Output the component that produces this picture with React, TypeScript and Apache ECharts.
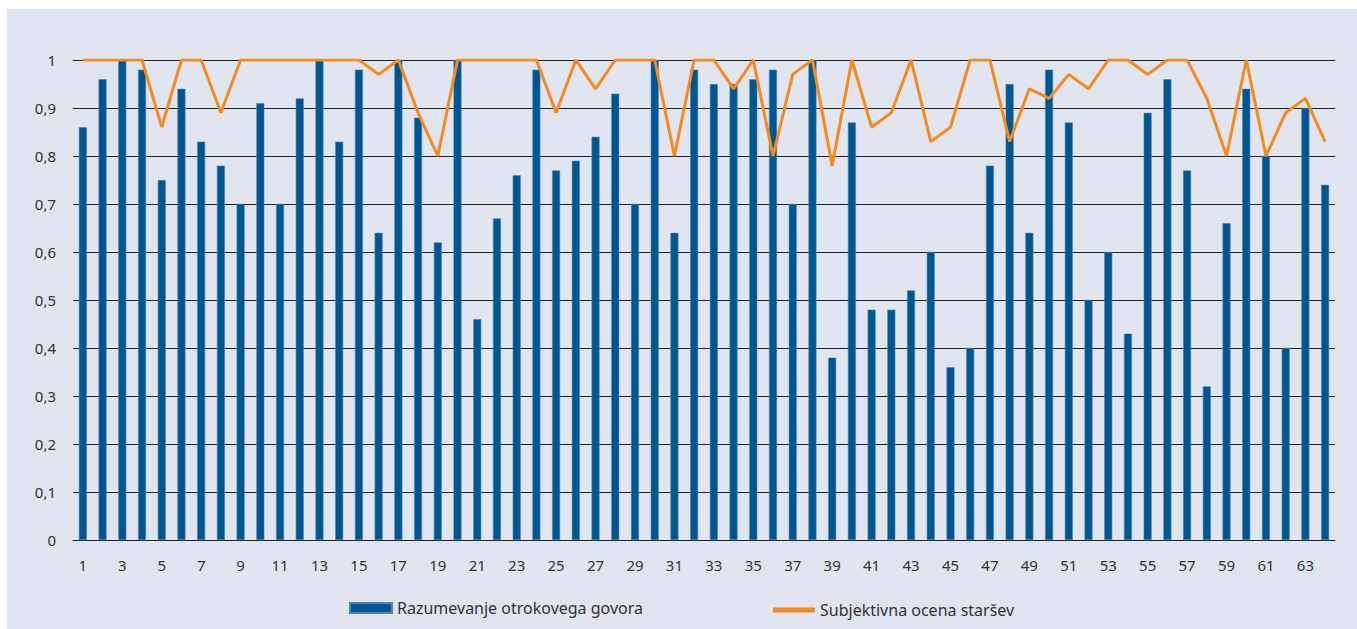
import React, { useEffect, useRef } from "react";
import * as echarts from "echarts";

const categories: string[] = Array.from({ length: 64 }, (_, i) => String(i + 1));

const razumevanje: number[] = [
  0.86, 0.96, 1.0, 0.98, 0.75, 0.94, 0.83, 0.78, 0.7, 0.91,
  0.7, 0.92, 1.0, 0.83, 0.98, 0.64, 1.0, 0.88, 0.62, 1.0,
  0.46, 0.67, 0.76, 0.98, 0.77, 0.79, 0.84, 0.93, 0.7, 1.0,
  0.64, 0.98, 0.95, 0.95, 0.96, 0.98, 0.7, 1.0, 0.38, 0.87,
  0.48, 0.48, 0.52, 0.6, 0.36, 0.4, 0.78, 0.95, 0.64, 0.98,
  0.87, 0.5, 0.6, 0.43, 0.89, 0.96, 0.77, 0.32, 0.66, 0.94,
  0.8, 0.4, 0.9, 0.74,
];

const ocena: number[] = [
  1, 1, 1, 1, 0.86, 1, 1, 0.89, 1, 1,
  1, 1, 1, 1, 1, 0.97, 1, 0.89, 0.8, 1,
  1, 1, 1, 1, 0.89, 1, 0.94, 1, 1, 1,
  0.8, 1, 1, 0.94, 1, 0.8, 0.97, 1, 0.78, 1,
  0.86, 0.89, 1, 0.83, 0.86, 1, 1, 0.83, 0.94, 0.92,
  0.97, 0.94, 1, 1, 0.97, 1, 1, 0.92, 0.8, 1,
  0.8, 0.89, 0.92, 0.83,
];

const seriesNames = ["Razumevanje otrokovega govora", "Subjektivna ocena staršev"];

export default function App() {
  const ref = useRef<HTMLDivElement>(null);
  useEffect(() => {
    if (!ref.current) return;
    const chart = echarts.init(ref.current, null, { renderer: "svg" });
    const font = "'Noto Sans', sans-serif";
    chart.setOption({
      animation: false,
      backgroundColor: "#e0e5ef",
      textStyle: { fontFamily: font },
      grid: { left: 66, top: 51, width: 1262, height: 480, containLabel: false },
      legend: [
        {
          data: [seriesNames[0]],
          left: 342,
          top: 591,
          padding: 0,
          itemWidth: 42,
          itemHeight: 10,
          itemGap: 5,
          icon: "rect",
          textStyle: { fontFamily: font, fontSize: 16, color: "#333" },
        },
        {
          data: [seriesNames[1]],
          left: 766,
          top: 593,
          padding: 0,
          itemWidth: 42,
          itemHeight: 5,
          icon: "rect",
          textStyle: { fontFamily: font, fontSize: 16, color: "#333" },
        },
      ],
      xAxis: {
        type: "category",
        data: categories,
        boundaryGap: true,
        axisLine: { show: true, lineStyle: { color: "#222", width: 1 } },
        axisTick: { show: false },
        axisLabel: {
          interval: 1,
          margin: 17,
          fontSize: 15,
          color: "#333",
          fontFamily: font,
        },
        splitLine: { show: false },
      },
      yAxis: {
        type: "value",
        min: 0,
        max: 1,
        interval: 0.1,
        axisLine: { show: false },
        axisTick: { show: false },
        axisLabel: {
          margin: 17,
          fontSize: 15,
          color: "#333",
          fontFamily: font,
          formatter: (v: number) => (Math.round(v * 10) / 10).toString().replace(".", ","),
        },
        splitLine: { show: true, lineStyle: { color: "#222", width: 1 } },
      },
      series: [
        {
          name: seriesNames[0],
          type: "bar",
          data: razumevanje,
          barWidth: 8,
          itemStyle: { color: "#00568f", borderColor: "#4f84b3", borderWidth: 0.6 },
        },
        {
          name: seriesNames[1],
          type: "line",
          data: ocena,
          symbol: "none",
          lineStyle: { color: "#f58a1f", width: 3 },
          itemStyle: { color: "#f58a1f" },
        },
      ],
    });
    return () => chart.dispose();
  }, []);
  return (
    <div
      ref={ref}
      style={{ position: "absolute", left: 7, top: 9, width: 1350, height: 620 }}
    />
  );
}
